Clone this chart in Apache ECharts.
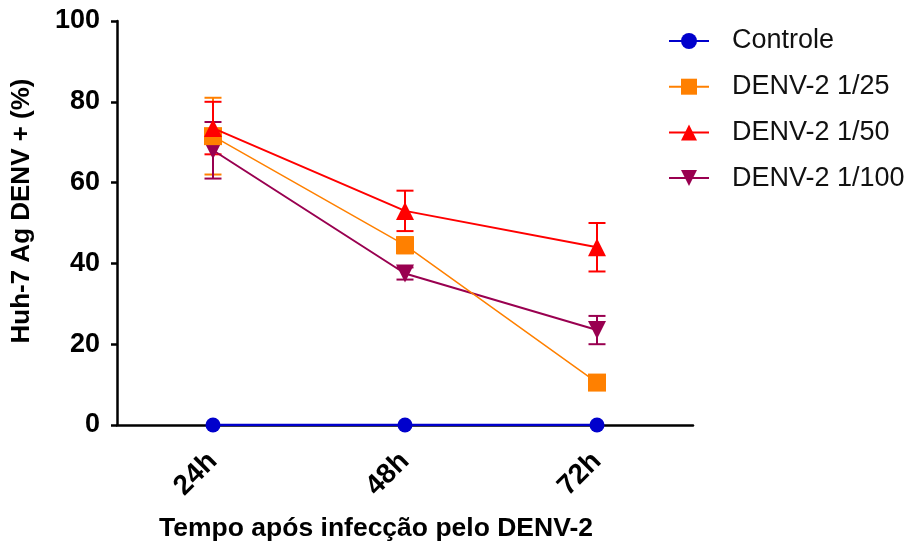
<!DOCTYPE html>
<html>
<head>
<meta charset="utf-8">
<script src="https://cdn.jsdelivr.net/npm/echarts@6/dist/echarts.min.js"></script>
<style>html,body{margin:0;padding:0;background:#fff}#c{width:908px;height:549px}</style>
</head>
<body>
<div id="c"></div>
<script>
var categories = ['24h', '48h', '72h'];
var seriesNames = ['Controle', 'DENV-2 1/25', 'DENV-2 1/50', 'DENV-2 1/100'];
var controle = [0, 0, 0];
var denv25 = [71.5, 44.5, 10.5];
var denv50 = [73.5, 53, 44];
var denv100 = [68, 37.5, 23.5];
var err25 = [9.5, 2, 1.5];
var err50 = [6.5, 5, 6];
var err100 = [7, 1.5, 3.5];
var yTicks = [0, 20, 40, 60, 80, 100];

var colors = ['#0000CC', '#FF8000', '#FF0000', '#990050'];
var FONT = '"Liberation Sans", Arial, sans-serif';

function errData(vals, errs) {
  return vals.map(function (v, i) { return [i, v - errs[i], v + errs[i]]; });
}
function errSeries(name, vals, errs, color) {
  return {
    type: 'custom',
    name: name,
    data: errData(vals, errs),
    z: 1,
    silent: true,
    renderItem: function (params, api) {
      var x = api.value(0);
      var lo = api.coord([x, api.value(1)]);
      var hi = api.coord([x, api.value(2)]);
      var w = 8.5;
      var st = { stroke: color, lineWidth: 2, fill: null };
      return {
        type: 'group',
        children: [
          { type: 'line', shape: { x1: hi[0], y1: hi[1], x2: lo[0], y2: lo[1] }, style: st },
          { type: 'line', shape: { x1: hi[0] - w, y1: hi[1], x2: hi[0] + w, y2: hi[1] }, style: st },
          { type: 'line', shape: { x1: lo[0] - w, y1: lo[1], x2: lo[0] + w, y2: lo[1] }, style: st }
        ]
      };
    }
  };
}
function lineSeries(name, vals, color, symbol, size, lw, rot, z) {
  return {
    type: 'line',
    name: name,
    data: vals,
    symbol: symbol,
    symbolSize: size,
    symbolRotate: rot || 0,
    showAllSymbol: true,
    z: z,
    lineStyle: { color: color, width: lw },
    itemStyle: { color: color, borderWidth: 0, opacity: 1 },
    emphasis: { disabled: true },
    animation: false
  };
}

var chart = echarts.init(document.getElementById('c'));
chart.setOption({
  animation: false,
  backgroundColor: '#fff',
  grid: { left: 117, right: 215, top: 21, bottom: 124, containLabel: false },
  legend: {
    data: seriesNames,
    orient: 'vertical',
    left: 663,
    top: 22.5,
    itemWidth: 40,
    itemHeight: 20,
    itemGap: 18.7,
    textStyle: { fontFamily: FONT, fontSize: 27, color: '#111', padding: [0, 0, 0, 18] }
  },
  xAxis: {
    type: 'category',
    data: categories,
    boundaryGap: true,
    name: 'Tempo após infecção pelo DENV-2',
    nameLocation: 'middle',
    nameGap: 90,
    nameTextStyle: { fontFamily: FONT, fontSize: 26.5, fontWeight: 'bold', color: '#000', padding: [0, 58, 0, 0] },
    axisLine: { show: true, lineStyle: { color: '#000', width: 2.5 } },
    axisTick: { show: true, alignWithLabel: true, length: 7, lineStyle: { color: '#000', width: 2.5 } },
    axisLabel: { rotate: 45, margin: 32, fontFamily: FONT, fontSize: 28, fontWeight: 'bold', color: '#000' },
    splitLine: { show: false }
  },
  yAxis: {
    type: 'value',
    min: yTicks[0],
    max: yTicks[yTicks.length - 1],
    interval: 20,
    name: 'Huh-7 Ag DENV + (%)',
    nameLocation: 'middle',
    nameGap: 82,
    nameTextStyle: { fontFamily: FONT, fontSize: 26, fontWeight: 'bold', color: '#000', padding: [0, 0, 0, 24] },
    axisLine: { show: true, lineStyle: { color: '#000', width: 2.5 } },
    axisTick: { show: true, length: 6, lineStyle: { color: '#000', width: 2.5 } },
    axisLabel: { margin: 17, fontFamily: FONT, fontSize: 27, fontWeight: 'bold', color: '#000' },
    splitLine: { show: false }
  },
  series: [
    errSeries('e25', denv25, err25, colors[1]),
    errSeries('e50', denv50, err50, colors[2]),
    errSeries('e100', denv100, err100, colors[3]),
    lineSeries(seriesNames[0], controle, colors[0], 'circle', 15, 2.5, 0, 5),
    lineSeries(seriesNames[1], denv25, colors[1], 'rect', 18, 1.5, 0, 3),
    lineSeries(seriesNames[2], denv50, colors[2], 'triangle', 18, 2, 0, 4),
    lineSeries(seriesNames[3], denv100, colors[3], 'triangle', 18, 2, 180, 2)
  ]
});
</script>
</body>
</html>
